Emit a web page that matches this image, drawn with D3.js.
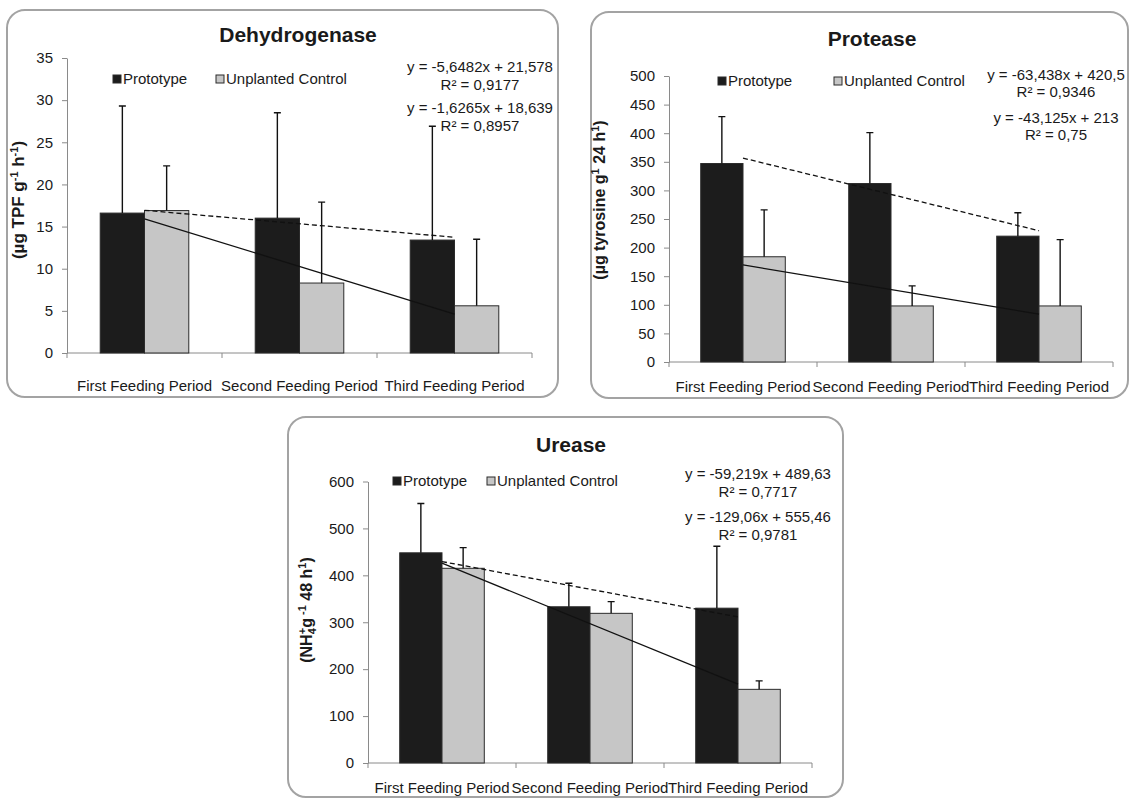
<!DOCTYPE html>
<html>
<head>
<meta charset="utf-8">
<script src="https://cdn.jsdelivr.net/npm/d3@7"></script>
<style>
  body { margin: 0; background: #fff; }
  text { font-family: "Liberation Sans", Arial, sans-serif; fill: #1a1a1a; }
</style>
</head>
<body>
<div id="chart"></div>
<script>
// ---- data ----
const periods = ['First Feeding Period', 'Second Feeding Period', 'Third Feeding Period'];
const seriesNames = ['Prototype', 'Unplanted Control'];

const dehydProto = [16.6, 16.0, 13.4];
const dehydProtoErr = [12.7, 12.5, 13.5];
const dehydCtrl = [16.9, 8.3, 5.6];
const dehydCtrlErr = [5.3, 9.6, 7.9];
const dehydTicks = [0, 5, 10, 15, 20, 25, 30, 35];
const dehydEq = ['y = -5,6482x + 21,578', 'R² = 0,9177', 'y = -1,6265x + 18,639', 'R² = 0,8957'];

const protProto = [347, 312, 220];
const protProtoErr = [82, 89, 41];
const protCtrl = [184, 98, 98];
const protCtrlErr = [82, 35, 116];
const protTicks = [0, 50, 100, 150, 200, 250, 300, 350, 400, 450, 500];
const protEq = ['y = -63,438x + 420,5', 'R² = 0,9346', 'y = -43,125x + 213', 'R² = 0,75'];

const ureaProto = [448, 333, 330];
const ureaProtoErr = [105, 50, 132];
const ureaCtrl = [415, 319, 157];
const ureaCtrlErr = [44, 25, 18];
const ureaTicks = [0, 100, 200, 300, 400, 500, 600];
const ureaEq = ['y = -59,219x + 489,63', 'R² = 0,7717', 'y = -129,06x + 555,46', 'R² = 0,9781'];

const panels = [
  {
    title: 'Dehydrogenase', proto: dehydProto, protoErr: dehydProtoErr, ctrl: dehydCtrl, ctrlErr: dehydCtrlErr,
    ticks: dehydTicks, eq: dehydEq,
    yTitle: [['(µg TPF g'], ['-1', 'sup'], [' h'], ['-1', 'sup'], [')']], yTitleSize: 17,
    box: [7, 10, 558, 397], titleX: 298, titleY: 35,
    plot: { x0: 67, x1: 532, y0: 353, y1: 58 },
    yTitleX: 24, yTitleY: 200, legendY: 79, legendX: [113, 216],
    eqX: 480, eqY: [67, 85, 108, 126], labelY: 386
  },
  {
    title: 'Protease', proto: protProto, protoErr: protProtoErr, ctrl: protCtrl, ctrlErr: protCtrlErr,
    ticks: protTicks, eq: protEq,
    yTitle: [['(µg tyrosine g'], ['1', 'sup'], [' 24 h'], ['1', 'sup'], [')']], yTitleSize: 16,
    box: [591, 12, 1128, 398], titleX: 872, titleY: 39,
    plot: { x0: 669, x1: 1113, y0: 362, y1: 76 },
    yTitleX: 605, yTitleY: 200, legendY: 81, legendX: [718, 834],
    eqX: 1056, eqY: [75, 92, 118, 135], labelY: 387
  },
  {
    title: 'Urease', proto: ureaProto, protoErr: ureaProtoErr, ctrl: ureaCtrl, ctrlErr: ureaCtrlErr,
    ticks: ureaTicks, eq: ureaEq,
    yTitle: [['(NH'], ['4', 'sub'], ['+', 'supover'], ['g'], [' -1', 'sup'], [' 48 h'], ['1', 'sup'], [')']], yTitleSize: 16,
    box: [288, 417, 843, 797], titleX: 571, titleY: 445,
    plot: { x0: 368, x1: 812, y0: 763, y1: 481.5 },
    yTitleX: 312, yTitleY: 610, legendY: 481, legendX: [393, 487],
    eqX: 758, eqY: [474, 492, 517, 535], labelY: 788
  }
];

const colours = { proto: '#1c1c1c', ctrl: '#c6c6c6', edge: '#2b2b2b', axis: '#8a8a8a', box: '#a3a3a3' };

const svg = d3.select('#chart').append('svg')
  .attr('width', 1131)
  .attr('height', 798);

// simple least squares fit on x = 1..n
function linFit(values) {
  const xs = values.map((_, i) => i + 1);
  const mx = d3.mean(xs), my = d3.mean(values);
  const slope = d3.sum(xs, (x, i) => (x - mx) * (values[i] - my)) / d3.sum(xs, x => (x - mx) ** 2);
  return { slope, intercept: my - slope * mx };
}

function drawPanel(p) {
  const g = svg.append('g');
  const [bx0, by0, bx1, by1] = p.box;

  g.append('rect')
    .attr('x', bx0).attr('y', by0)
    .attr('width', bx1 - bx0).attr('height', by1 - by0)
    .attr('rx', 18)
    .attr('fill', '#fff')
    .attr('stroke', colours.box)
    .attr('stroke-width', 2);

  g.append('text')
    .attr('x', p.titleX).attr('y', p.titleY)
    .attr('dy', '0.35em')
    .attr('text-anchor', 'middle')
    .style('font-size', '21px')
    .style('font-weight', 'bold')
    .text(p.title);

  const x = d3.scaleBand().domain(periods).range([p.plot.x0, p.plot.x1]);
  const x1 = d3.scaleBand().domain(['proto', 'ctrl']).range([0, x.bandwidth()]).paddingOuter(0.75);
  const y = d3.scaleLinear().domain([0, d3.max(p.ticks)]).range([p.plot.y0, p.plot.y1]);

  // y axis
  const yAxis = g.append('g')
    .attr('transform', `translate(${p.plot.x0},0)`)
    .call(d3.axisLeft(y).tickValues(p.ticks).tickSize(5).tickSizeOuter(0).tickPadding(9));
  yAxis.select('.domain').attr('stroke', colours.axis);
  yAxis.selectAll('.tick line').attr('stroke', colours.axis);
  yAxis.selectAll('.tick text')
    .style('font-size', '15px')
    .style('font-family', '"Liberation Sans", Arial, sans-serif')
    .attr('fill', '#2a2a2a');

  // x axis: line, boundary ticks, category labels
  g.append('line')
    .attr('x1', p.plot.x0).attr('x2', p.plot.x1)
    .attr('y1', p.plot.y0).attr('y2', p.plot.y0)
    .attr('stroke', colours.axis);
  const bounds = periods.map(d => x(d)).concat([p.plot.x1]);
  g.selectAll('.xtick').data(bounds).join('line')
    .attr('class', 'xtick')
    .attr('x1', d => d).attr('x2', d => d)
    .attr('y1', p.plot.y0).attr('y2', p.plot.y0 + 5)
    .attr('stroke', colours.axis);
  g.selectAll('.xlabel').data(periods).join('text')
    .attr('class', 'xlabel')
    .attr('x', d => x(d) + x.bandwidth() / 2)
    .attr('y', p.labelY)
    .attr('dy', '0.35em')
    .attr('text-anchor', 'middle')
    .style('font-size', '15px')
    .text(d => d);

  // y axis title with sub/superscripts
  const yt = g.append('text')
    .attr('transform', `translate(${p.yTitleX},${p.yTitleY}) rotate(-90)`)
    .attr('text-anchor', 'middle')
    .attr('dy', '0.35em')
    .style('font-size', p.yTitleSize + 'px')
    .style('font-weight', 'bold');
  let shift = 0;
  p.yTitle.forEach(([t, kind]) => {
    const ts = yt.append('tspan').text(t);
    let target = 0;
    if (kind === 'sup') { target = -6; ts.style('font-size', '11px'); }
    if (kind === 'sub') { target = 4; ts.style('font-size', '11px'); }
    if (kind === 'supover') { target = -6; ts.style('font-size', '11px').attr('dx', -6); }
    ts.attr('dy', target - shift);
    shift = target;
  });

  // bars
  const rows = periods.map((period, i) => ({
    period,
    bars: [
      { key: 'proto', value: p.proto[i], err: p.protoErr[i] },
      { key: 'ctrl', value: p.ctrl[i], err: p.ctrlErr[i] }
    ]
  }));
  const groups = g.selectAll('.grp').data(rows).join('g')
    .attr('class', 'grp')
    .attr('transform', d => `translate(${x(d.period)},0)`);
  groups.selectAll('rect').data(d => d.bars).join('rect')
    .attr('x', d => x1(d.key))
    .attr('y', d => y(d.value))
    .attr('width', x1.bandwidth())
    .attr('height', d => y(0) - y(d.value))
    .attr('fill', d => colours[d.key])
    .attr('stroke', colours.edge)
    .attr('stroke-width', 1);

  // error bars (plus side only)
  groups.selectAll('.err').data(d => d.bars).join('path')
    .attr('class', 'err')
    .attr('fill', 'none')
    .attr('stroke', '#111')
    .attr('stroke-width', 1.4)
    .attr('d', d => {
      const cx = x1(d.key) + x1.bandwidth() / 2;
      const top = y(d.value + d.err);
      return `M${cx},${y(d.value)}V${top}M${cx - 3.5},${top}H${cx + 3.5}`;
    });

  // linear trendlines, from first to last category centre
  const xt = d3.scaleLinear().domain([1, periods.length])
    .range([x(periods[0]) + x.bandwidth() / 2, x(periods[periods.length - 1]) + x.bandwidth() / 2]);
  [['proto', '5,3'], ['ctrl', null]].forEach(([key, dash]) => {
    const fit = linFit(p[key]);
    g.append('line')
      .attr('x1', xt(1)).attr('y1', y(fit.slope * 1 + fit.intercept))
      .attr('x2', xt(periods.length)).attr('y2', y(fit.slope * periods.length + fit.intercept))
      .attr('stroke', '#111')
      .attr('stroke-width', 1.3)
      .attr('stroke-dasharray', dash);
  });

  // legend
  seriesNames.forEach((name, i) => {
    const lx = p.legendX[i];
    g.append('rect')
      .attr('x', lx).attr('y', p.legendY - 4)
      .attr('width', 8).attr('height', 8)
      .attr('fill', i === 0 ? colours.proto : colours.ctrl)
      .attr('stroke', colours.edge)
      .attr('stroke-width', 1);
    g.append('text')
      .attr('x', lx + 10).attr('y', p.legendY)
      .attr('dy', '0.35em')
      .style('font-size', '15px')
      .text(name);
  });

  // trendline equations
  g.selectAll('.eq').data(p.eq).join('text')
    .attr('class', 'eq')
    .attr('x', p.eqX)
    .attr('y', (d, i) => p.eqY[i])
    .attr('dy', '0.35em')
    .attr('text-anchor', 'middle')
    .style('font-size', '15px')
    .text(d => d);
}

panels.forEach(drawPanel);
</script>
</body>
</html>
